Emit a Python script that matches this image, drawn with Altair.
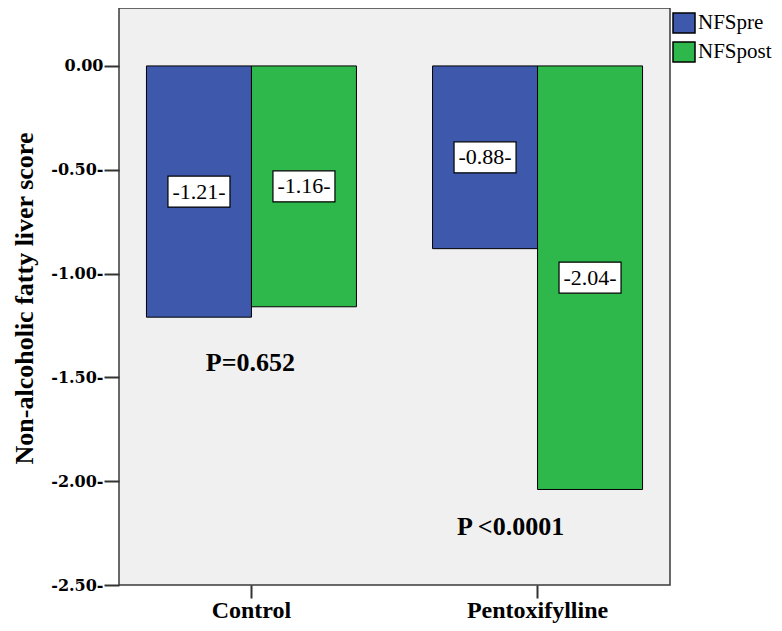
import altair as alt
import pandas as pd

groups = ["Control", "Control", "Pentoxifylline", "Pentoxifylline"]
series = ["NFSpre", "NFSpost", "NFSpre", "NFSpost"]
values = [-1.21, -1.16, -0.88, -2.04]

series_order = ["NFSpre", "NFSpost"]
series_colors = ["#3e58ac", "#2eb84c"]
group_order = ["Control", "Pentoxifylline"]

y_ticks = [0.0, -0.5, -1.0, -1.5, -2.0, -2.5]

p_groups = ["Control", "Pentoxifylline"]
p_texts = ["P=0.652", "P <0.0001"]
p_y = [-1.43, -2.22]

df = pd.DataFrame({"group": groups, "series": series, "value": values})
df["label"] = [f"-{abs(v):.2f}-" for v in values]
df["mid"] = df["value"] / 2

pdf = pd.DataFrame({"group": p_groups, "text": p_texts, "y": p_y})

x_enc = alt.X("group:N", sort=group_order,
              scale=alt.Scale(paddingInner=0.266, paddingOuter=0.096),
              axis=alt.Axis(title=None, labelAngle=0, labelFont="Liberation Serif",
                            labelFontSize=24, labelFontWeight="bold", labelColor="black",
                            tickSize=13, tickWidth=2, tickColor="#333",
                            labelPadding=0, domain=False))
xoff = alt.XOffset("series:N", sort=series_order,
                   scale=alt.Scale(paddingInner=0, paddingOuter=0))
y_scale = alt.Scale(domain=[-2.5, 0.279], nice=False, zero=False)

bars = alt.Chart(df).mark_bar(stroke="black", strokeWidth=1).encode(
    x=x_enc,
    xOffset=xoff,
    y=alt.Y("value:Q", scale=y_scale,
            axis=alt.Axis(values=y_ticks, title="Non-alcoholic fatty liver score",
                          labelExpr="datum.value == 0 ? '0.00' : '-' + format(abs(datum.value), '.2f') + '-'",
                          labelFont="DejaVu Serif", labelFontSize=16, labelFontWeight="bold",
                          labelColor="black", tickSize=15, tickWidth=2, tickColor="#333",
                          labelPadding=1, grid=False, domain=False,
                          titleFont="Liberation Serif", titleFontSize=26, titleFontWeight="bold",
                          titleColor="black", titleAngle=270, titleX=-87, titleY=290,
                          titleAlign="center", titleBaseline="alphabetic")),
    y2=alt.datum(0),
    color=alt.Color("series:N", sort=series_order,
                    scale=alt.Scale(domain=series_order, range=series_colors),
                    legend=alt.Legend(title=None, orient="none", legendX=554, legendY=4,
                                      padding=0,
                                      labelFont="Liberation Serif", labelFontSize=21,
                                      labelColor="black", labelOffset=3, rowPadding=3,
                                      symbolType="M-1.1,-1H1.1V1H-1.1Z", symbolSize=400,
                                      symbolStrokeColor="black", symbolStrokeWidth=1.5,
                                      symbolOpacity=1)),
)

boxes = alt.Chart(df).mark_point(
    shape="M-1,-0.5H1V0.5H-1Z", size=3844, filled=True, fill="white",
    stroke="black", strokeWidth=1.2, opacity=1
).encode(
    x=alt.X("group:N", sort=group_order),
    xOffset=alt.XOffset("series:N", sort=series_order),
    y=alt.Y("mid:Q", scale=y_scale),
)

labels = alt.Chart(df).mark_text(
    font="Liberation Serif", fontSize=22, color="black", baseline="middle", align="center"
).encode(
    x=alt.X("group:N", sort=group_order),
    xOffset=alt.XOffset("series:N", sort=series_order),
    y=alt.Y("mid:Q", scale=y_scale),
    text="label:N",
)

p1 = alt.Chart(pdf).transform_filter(alt.datum.group == "Control").mark_text(
    font="Liberation Serif", fontSize=26, fontWeight="bold", color="black",
    baseline="middle", align="center", dx=-1
).encode(x=alt.X("group:N", sort=group_order), y=alt.Y("y:Q", scale=y_scale), text="text:N")

p2 = alt.Chart(pdf).transform_filter(alt.datum.group == "Pentoxifylline").mark_text(
    font="Liberation Serif", fontSize=26, fontWeight="bold", color="black",
    baseline="middle", align="center", dx=-27
).encode(x=alt.X("group:N", sort=group_order), y=alt.Y("y:Q", scale=y_scale), text="text:N")

chart = alt.layer(bars, boxes, labels, p1, p2).properties(
    width=551, height=577,
    autosize=alt.AutoSizeParams(type="none"),
    padding={"left": 111, "top": 0, "right": 104, "bottom": 38},
    background="white",
).configure_view(
    fill="#f0f0f0", stroke="#3a3a3a", strokeWidth=1.5
)

chart.save("out.html", embed_options={"renderer": "svg", "actions": False})
